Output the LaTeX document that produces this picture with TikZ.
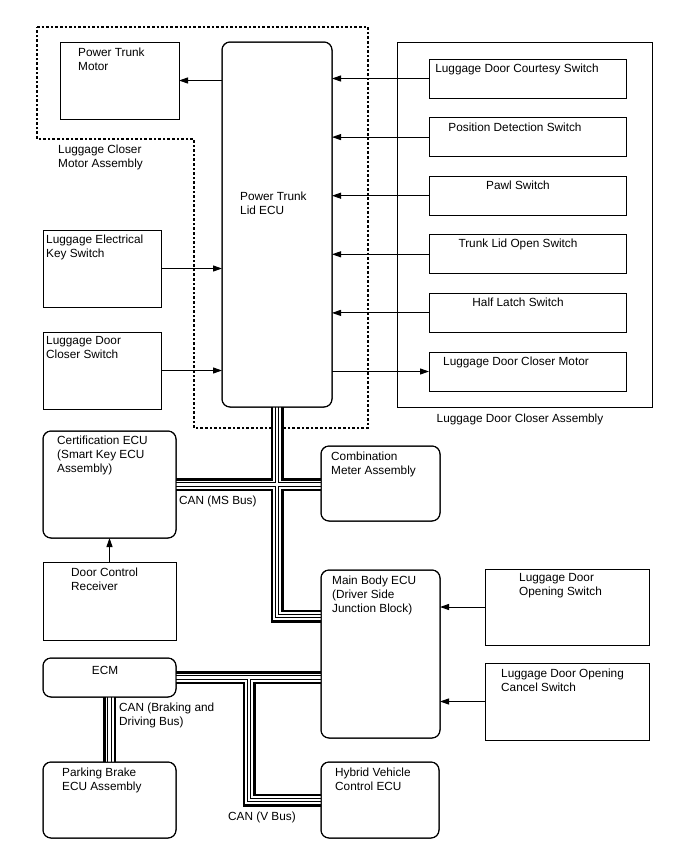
\documentclass[tikz,border=0pt]{standalone}
\usepackage{fontspec}
\setmainfont{Liberation Sans}
\usetikzlibrary{arrows.meta}
\tikzset{
  box/.style={draw, line width=1pt, inner sep=0pt, outer sep=0pt, anchor=north west},
  rbox/.style={box, rounded corners=8pt},
  txt/.style={inner sep=0pt, anchor=north west, align=left, font=\fontsize{11.8}{14}\selectfont},
  ctxt/.style={txt, anchor=north, align=center},
  arr/.style={line width=1pt, -{Triangle[length=9pt,width=6pt]}},
  dotbox/.style={line width=1.1pt, dash pattern=on 2.6pt off 2pt},
}
\newcommand\busnet[1]{%
  \draw[#1] (ecu.south) -- (ecu.south |- mbin) -- (mbin);
  \draw[#1] (cert.east) -- (cert.east -| comb.west);
  \draw[#1] (ecm.east) -- (ecm.east -| main.west);
  \draw[#1] (vb) -- (vb |- hv.west) -- (hv.west);
  \draw[#1] (ecm.south) -- (pb.north);
}
\begin{document}
\begin{tikzpicture}[x=1pt, y=-1pt]
\useasboundingbox (0,0) rectangle (688,852);

% dotted assembly outline
\draw[dotbox] (37,27) -- (368,27) -- (368,428) -- (194,428) -- (194,139) -- (37,139) -- cycle;

% boxes
\node[box, minimum width=119pt, minimum height=77pt] (ptm) at (60,42) {};
\node[rbox, minimum width=110pt, minimum height=365pt] (ecu) at (222,42) {};
\node[box, minimum width=255pt, minimum height=365pt] (asm) at (397,42) {};
\node[box, minimum width=197pt, minimum height=39pt] (sw1) at (429,59) {};
\node[box, minimum width=197pt, minimum height=39pt] (sw2) at (429,117.6) {};
\node[box, minimum width=197pt, minimum height=39pt] (sw3) at (429,176.2) {};
\node[box, minimum width=197pt, minimum height=39pt] (sw4) at (429,234.8) {};
\node[box, minimum width=197pt, minimum height=39pt] (sw5) at (429,293.4) {};
\node[box, minimum width=197pt, minimum height=39pt] (sw6) at (429,352) {};
\node[box, minimum width=118pt, minimum height=77pt] (lek) at (43,230) {};
\node[box, minimum width=118pt, minimum height=77pt] (ldcs) at (43,332) {};
\node[rbox, minimum width=133pt, minimum height=107pt] (cert) at (43,431) {};
\node[box, minimum width=133pt, minimum height=78pt] (dcr) at (43,562) {};
\node[rbox, minimum width=119pt, minimum height=75pt] (comb) at (321,446) {};
\node[rbox, minimum width=119pt, minimum height=168pt] (main) at (321,570) {};
\node[box, minimum width=164pt, minimum height=76pt] (lops) at (485,569) {};
\node[box, minimum width=164pt, minimum height=77pt] (locs) at (485,663) {};
\node[rbox, minimum width=133pt, minimum height=39pt] (ecm) at (43,658) {};
\node[rbox, minimum width=133pt, minimum height=76pt] (pb) at (43,762) {};
\node[rbox, minimum width=118pt, minimum height=76pt] (hv) at (321,762) {};

\coordinate (mbin) at ([yshift=-46pt]main.north west);
\coordinate (vb) at ([xshift=73pt]ecm.east);

% CAN buses (layered)
\begin{scope}[line join=miter]
\busnet{line width=13pt, draw=black}
\busnet{line width=8pt, draw=white}
\busnet{line width=4.4pt, draw=black}
\busnet{line width=2.3pt, draw=white}
\end{scope}
% redraw box edges over bus ends
\foreach \n in {ecu,cert,comb,main,ecm,pb,hv}
  \draw[line width=1pt, rounded corners=8pt] (\n.north west) rectangle (\n.south east);

% arrows
\draw[arr] (ecu.west |- ptm.east) -- (ptm.east);
\draw[arr] (sw1.west) -- (sw1.west -| ecu.east);
\draw[arr] (sw2.west) -- (sw2.west -| ecu.east);
\draw[arr] (sw3.west) -- (sw3.west -| ecu.east);
\draw[arr] (sw4.west) -- (sw4.west -| ecu.east);
\draw[arr] (sw5.west) -- (sw5.west -| ecu.east);
\draw[arr] (sw6.west -| ecu.east) -- (sw6.west);
\draw[arr] (lek.east) -- (lek.east -| ecu.west);
\draw[arr] (ldcs.east) -- (ldcs.east -| ecu.west);
\draw[arr] (dcr.north) -- (cert.south);
\draw[arr] (lops.west) -- (lops.west -| main.east);
\draw[arr] (locs.west) -- (locs.west -| main.east);

% texts
\node[txt] (tptm) at (78,47.5) {Power Trunk\\Motor};
\node[txt] (tlcm) at (58,144.5) {Luggage Closer\\Motor Assembly};
\node[txt] (tecu) at (240,191.5) {Power Trunk\\Lid ECU};
\node[ctxt] (tsw1) at (517,63.5) {Luggage Door Courtesy Switch};
\node[ctxt] (tsw2) at (515,122.5) {Position Detection Switch};
\node[ctxt] (tsw3) at (518,181) {Pawl Switch};
\node[ctxt] (tsw4) at (518,239) {Trunk Lid Open Switch};
\node[ctxt] (tsw5) at (518,298) {Half Latch Switch};
\node[ctxt] (tsw6) at (516,356.5) {Luggage Door Closer Motor};
\node[ctxt] (tasm) at (520,413.5) {Luggage Door Closer Assembly};
\node[txt] (tlek) at (46,234.5) {Luggage Electrical\\Key Switch};
\node[txt] (tldcs) at (46,336.5) {Luggage Door\\Closer Switch};
\node[txt] (tcert) at (57,435.5) {Certification ECU\\(Smart Key ECU\\Assembly)};
\node[txt] (tdcr) at (71,567.5) {Door Control\\Receiver};
\node[txt] (tcomb) at (331,451.5) {Combination\\Meter Assembly};
\node[txt] (tms) at (179,495.5) {CAN (MS Bus)};
\node[txt] (tmain) at (332,575.5) {Main Body ECU\\(Driver Side\\Junction Block)};
\node[txt] (tlops) at (519,573.5) {Luggage Door\\Opening Switch};
\node[txt] (tlocs) at (501,668.5) {Luggage Door Opening\\Cancel Switch};
\node[ctxt] (tecm) at (105,666.5) {ECM};
\node[txt] (tbd) at (119,702.5) {CAN (Braking and\\Driving Bus)};
\node[txt] (tpb) at (62,767.5) {Parking Brake\\ECU Assembly};
\node[txt] (thv) at (335,767.5) {Hybrid Vehicle\\Control ECU};
\node[txt] (tvb) at (228,811.5) {CAN (V Bus)};
\end{tikzpicture}
\end{document}
